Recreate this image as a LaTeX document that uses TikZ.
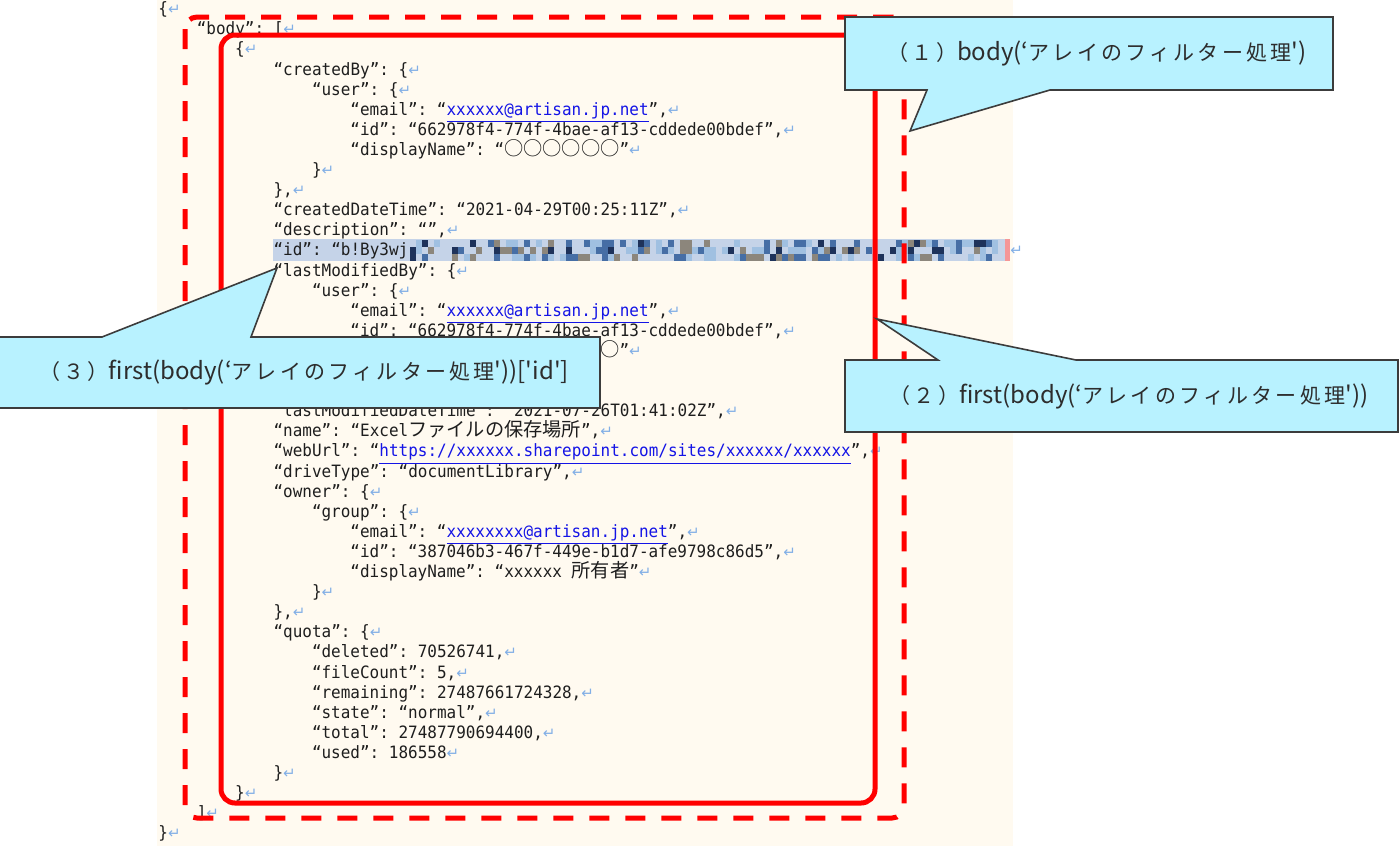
\documentclass[tikz,border=0pt]{standalone}
\usepackage{fontspec}
\newfontfamily\jsonfont{DejaVu Sans Mono}[FakeStretch=0.94]
\newfontfamily\jpfont{Noto Sans CJK JP}
\newfontfamily\arrfont{DejaVu Sans}
\newfontfamily\cfont{Noto Sans CJK JP}
\newfontfamily\ckana{Noto Sans CJK JP}[LetterSpace=15.5]
\definecolor{cream}{RGB}{255,250,240}
\definecolor{retblue}{RGB}{130,175,230}
\definecolor{linkblue}{RGB}{20,20,230}
\definecolor{jsontext}{RGB}{30,30,30}
\definecolor{bandbg}{RGB}{197,211,232}
\definecolor{mosA}{RGB}{160,192,225}
\definecolor{mosB}{RGB}{140,134,124}
\definecolor{mosC}{RGB}{70,110,165}
\definecolor{mosD}{RGB}{30,50,90}
\definecolor{pinkstrip}{RGB}{245,150,150}
\definecolor{callfill}{RGB}{184,242,255}
\definecolor{callline}{RGB}{60,60,60}
\definecolor{calltext}{RGB}{45,45,45}
\newcommand\rmark{{\color{retblue}\arrfont\fontsize{7.5pt}{8pt}\selectfont ↵}}
\newcommand\jp[1]{{\jpfont\fontsize{9.6pt}{10pt}\selectfont #1}}
\newcommand\lnk[1]{{\color{linkblue}\underline{#1}}}
\newcommand\kn[1]{{\ckana\fontsize{10.5pt}{12pt}\selectfont #1}}
\newcommand\jline[3]{\node[jl] (l#1) at ({158+38.4*#2},{14.7+20.1*#1}) {#3};}
\begin{document}
\frenchspacing
\begin{tikzpicture}[x=0.5pt,y=-0.5pt,
  jl/.style={anchor=base west,inner sep=0pt,text=jsontext,
    font=\jsonfont\fontsize{8.5pt}{10pt}\selectfont},
  redsolid/.style={draw=red,line width=2.5pt,rounded corners=7pt},
  reddash/.style={draw=red,line width=2.5pt,rounded corners=6pt,dash pattern=on 10pt off 8pt},
  callout/.style={fill=callfill,draw=callline,line width=0.8pt,line join=miter},
  ctext/.style={inner sep=0pt,text=calltext,font=\cfont\fontsize{12pt}{14pt}\selectfont}]
\useasboundingbox (0,0) rectangle (1400,846);
% background
\fill[cream] (157,0) rectangle (1013,846);
% highlighted id line
\fill[bandbg] (273,239) rectangle (1005,261);
\fill[pinkstrip] (1005,239) rectangle (1010,261);
\pgfmathsetseed{7}
\foreach \i in {0,...,97} {
  \foreach \j in {0,1,2} {
    \pgfmathsetmacro{\xx}{410+6*\i}
    \pgfmathsetmacro{\yy}{240+7*\j}
    \pgfmathrandominteger{\r}{0}{99}
    \ifnum\j=1 \pgfmathtruncatemacro{\r}{\r+12}\fi
    \ifnum\r<48 \else
      \ifnum\r<64 \def\mc{mosA}\else
      \ifnum\r<78 \def\mc{mosB}\else
      \ifnum\r<92 \def\mc{mosC}\else \def\mc{mosD}\fi\fi\fi
      \fill[fill=\mc] (\xx,\yy) rectangle +(6,7);
    \fi
  }
}
% JSON text
\jline{0}{0}{\{\rmark}
\jline{1}{1}{“body”: [\rmark}
\jline{2}{2}{\{\rmark}
\jline{3}{3}{“createdBy”: \{\rmark}
\jline{4}{4}{“user”: \{\rmark}
\jline{5}{5}{“email”: “\lnk{xxxxxx@artisan.jp.net}”,\rmark}
\jline{6}{5}{“id”: “662978f4-774f-4bae-af13-cddede00bdef”,\rmark}
\jline{7}{5}{“displayName”: “\jp{○○○○○○}”\rmark}
\jline{8}{4}{\}\rmark}
\jline{9}{3}{\},\rmark}
\jline{10}{3}{“createdDateTime”: “2021-04-29T00:25:11Z”,\rmark}
\jline{11}{3}{“description”: “”,\rmark}
\jline{12}{3}{“id”: “b!By3wj}
\node[jl] (l12r) at (1010,{14.7+20.1*12}) {\rmark};
\jline{13}{3}{“lastModifiedBy”: \{\rmark}
\jline{14}{4}{“user”: \{\rmark}
\jline{15}{5}{“email”: “\lnk{xxxxxx@artisan.jp.net}”,\rmark}
\jline{16}{5}{“id”: “662978f4-774f-4bae-af13-cddede00bdef”,\rmark}
\jline{17}{5}{“displayName”: “\jp{○○○○○○}”\rmark}
\jline{18}{4}{\}\rmark}
\jline{19}{3}{\},\rmark}
\jline{20}{3}{“lastModifiedDateTime”: “2021-07-26T01:41:02Z”,\rmark}
\jline{21}{3}{“name”: “Excel\jp{ファイルの保存場所}”,\rmark}
\jline{22}{3}{“webUrl”: “\lnk{https://xxxxxx.sharepoint.com/sites/xxxxxx/xxxxxx}”,\rmark}
\jline{23}{3}{“driveType”: “documentLibrary”,\rmark}
\jline{24}{3}{“owner”: \{\rmark}
\jline{25}{4}{“group”: \{\rmark}
\jline{26}{5}{“email”: “\lnk{xxxxxxxx@artisan.jp.net}”,\rmark}
\jline{27}{5}{“id”: “387046b3-467f-449e-b1d7-afe9798c86d5”,\rmark}
\jline{28}{5}{“displayName”: “xxxxxx \jp{所有者}”\rmark}
\jline{29}{4}{\}\rmark}
\jline{30}{3}{\},\rmark}
\jline{31}{3}{“quota”: \{\rmark}
\jline{32}{4}{“deleted”: 70526741,\rmark}
\jline{33}{4}{“fileCount”: 5,\rmark}
\jline{34}{4}{“remaining”: 27487661724328,\rmark}
\jline{35}{4}{“state”: “normal”,\rmark}
\jline{36}{4}{“total”: 27487790694400,\rmark}
\jline{37}{4}{“used”: 186558\rmark}
\jline{38}{3}{\}\rmark}
\jline{39}{2}{\}\rmark}
\jline{40}{1}{]\rmark}
\jline{41}{0}{\}\rmark}
% red frames
\draw[reddash] (185,17) rectangle (904,818);
\draw[redsolid] (221,35) rectangle (875,803);
% callouts
\draw[callout] (845,17) -- (1333,17) -- (1333,90) -- (1050,90) -- (910,131) -- (927,90) -- (845,90) -- cycle;
\node[ctext] (c1) at (1097,53) {\kn{（１）}body(‘\kn{アレイのフィルター処理}')};
\draw[callout] (845,360) -- (938,360) -- (877,319) -- (1076,360) -- (1398,360) -- (1398,432) -- (845,432) -- cycle;
\node[ctext] (c2) at (1129,396) {\kn{（２）}first(body(‘\kn{アレイのフィルター処理}'))};
\draw[callout] (-5,337) -- (102,337) -- (277,268) -- (251,337) -- (600,337) -- (600,408) -- (-5,408) -- cycle;
\node[ctext] (c3) at (304,372) {\kn{（３）}first(body(‘\kn{アレイのフィルター処理}'))['id']};
\end{tikzpicture}
\end{document}
